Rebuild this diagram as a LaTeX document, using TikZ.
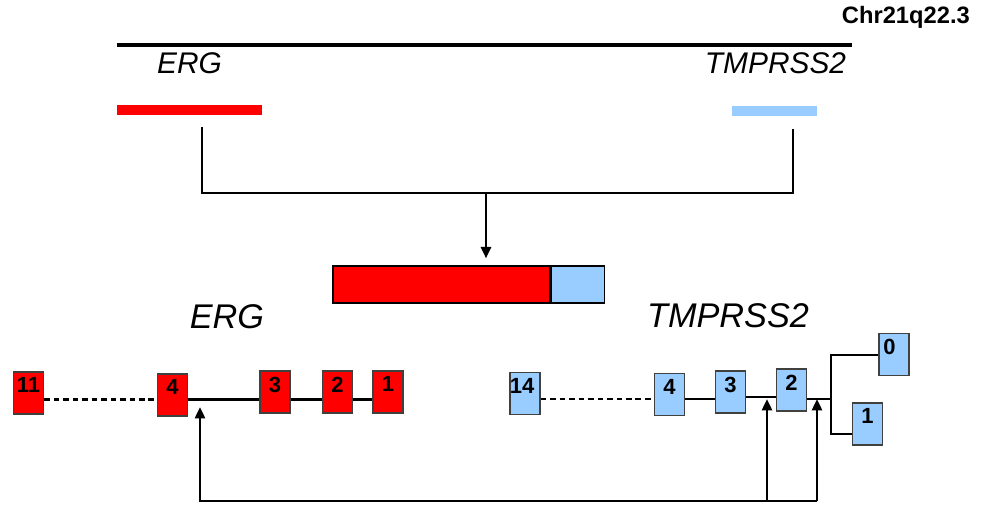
\documentclass[tikz,border=0pt]{standalone}
\usepackage{fontspec}
\setmainfont{Liberation Sans}
\usetikzlibrary{arrows.meta}
\definecolor{tmpblue}{RGB}{153,204,255}

\begin{document}
\begin{tikzpicture}[x=0.02cm,y=-0.02cm,
    gene/.style={font=\itshape\fontsize{17}{20}\selectfont},
    genebig/.style={font=\itshape\fontsize{19.5}{23}\selectfont},
    genebar/.style={minimum height=0.2cm, inner sep=0pt},
    fusepart/.style={draw, line width=0.7pt, minimum height=0.74cm, inner sep=0pt},
    exon/.style={draw=black!75, line width=0.7pt, minimum width=0.6cm, minimum height=0.84cm, inner sep=0pt},
    ergexon/.style={exon, fill=red},
    tmpexon/.style={exon, fill=tmpblue},
    exnum/.style={anchor=north, inner sep=0pt, yshift=-1.2mm, font=\bfseries\fontsize{12.5}{14}\selectfont},
    link/.style={line width=1.7pt},
    arr/.style={link, -{Triangle[length=2.3mm,width=2mm]}},
    intron/.style={line width=1.6pt},
    gap/.style={intron, dash pattern=on 3.2pt off 2.2pt}]
    \useasboundingbox (0,0) rectangle (988,523);

    % chromosome with both genes
    \node[font=\bfseries\fontsize{13.5}{16}\selectfont, anchor=east] (chrname) at (976,17) {Chr21q22.3};
    \draw[line width=2.2pt] (117,45) -- (852,45);
    \node[gene] (ergtop) at (189.5,63) {ERG};
    \node[gene] (tmptop) at (775.5,63) {TMPRSS2};
    \node[genebar, fill=red, minimum width=2.9cm] (ergbar) at (189.5,110) {};
    \node[genebar, fill=tmpblue, minimum width=1.7cm] (tmpbar) at (774.5,111) {};

    % fusion
    \coordinate (ergcut) at (202,127);
    \coordinate (tmpcut) at (793,129);
    \coordinate (join) at (486,193);
    \node[fusepart, fill=red, minimum width=4.34cm] (fusA) at (441.5,284.5) {};
    \node[fusepart, fill=tmpblue, minimum width=1.06cm, anchor=west] (fusB) at (fusA.east) {};
    \draw[link] (ergcut) |- (join) -| (tmpcut);
    \draw[arr, shorten >=1.4mm] (join) -- (join |- fusA.north);

    \node[genebig] (ergmid) at (227,317) {ERG};
    \node[genebig] (tmpmid) at (728,316) {TMPRSS2};

    % ERG exons
    \node[ergexon, label={[exnum]north:11}] (e11) at (28.5,393) {};
    \node[ergexon, label={[exnum]north:4}] (e4) at (172.5,395) {};
    \node[ergexon, label={[exnum]north:3}] (e3) at (275,392) {};
    \node[ergexon, label={[exnum]north:2}] (e2) at (337.5,392) {};
    \node[ergexon, label={[exnum]north:1}] (e1) at (388,392) {};
    \coordinate (lax) at (0,399.5);
    \draw[gap] (e11.east |- lax) -- (e4.west |- lax);
    \draw[intron] (e4.east |- lax) -- (e3.west |- lax);
    \draw[intron] (e3.east |- lax) -- (e2.west |- lax);
    \draw[intron] (e2.east |- lax) -- (e1.west |- lax);

    % TMPRSS2 exons
    \node[tmpexon, label={[exnum, xshift=-0.6mm]north:14}] (t14) at (525,393.5) {};
    \node[tmpexon, label={[exnum]north:4}] (t4) at (669.5,394.5) {};
    \node[tmpexon, label={[exnum]north:3}] (t3) at (730.5,392) {};
    \node[tmpexon, label={[exnum]north:2}] (t2) at (791.5,390) {};
    \node[tmpexon, label={[exnum, xshift=-0.9mm]north:0}] (t0) at (894,354.5) {};
    \node[tmpexon, label={[exnum]north:1}] (t1) at (867.5,424) {};
    \coordinate (rax) at (0,399);
    \coordinate (fork) at (831,399);
    \coordinate (forkT) at (831,355);
    \coordinate (forkB) at (831,434);
    \draw[gap] (t14.east |- rax) -- (t4.west |- rax);
    \draw[intron] (t4.east |- rax) -- (t3.west |- rax);
    \draw[intron] (t3.east |- 0,397) -- (t2.west |- 0,397);
    \draw[intron] (t2.east |- fork) -- (fork);
    \draw[intron] (t0.west |- forkT) -- (forkT) -- (forkB) -- (t1.west |- forkB);

    % breakpoints
    \coordinate (ergbp) at (200,407);
    \coordinate (tmpbpA) at (767,399);
    \coordinate (tmpbpB) at (817,399);
    \coordinate (base) at (817,501);
    \draw[arr] (base) -| (ergbp);
    \draw[arr] (base) -- (tmpbpB);
    \draw[arr] (tmpbpA |- base) -- (tmpbpA);
\end{tikzpicture}
\end{document}
